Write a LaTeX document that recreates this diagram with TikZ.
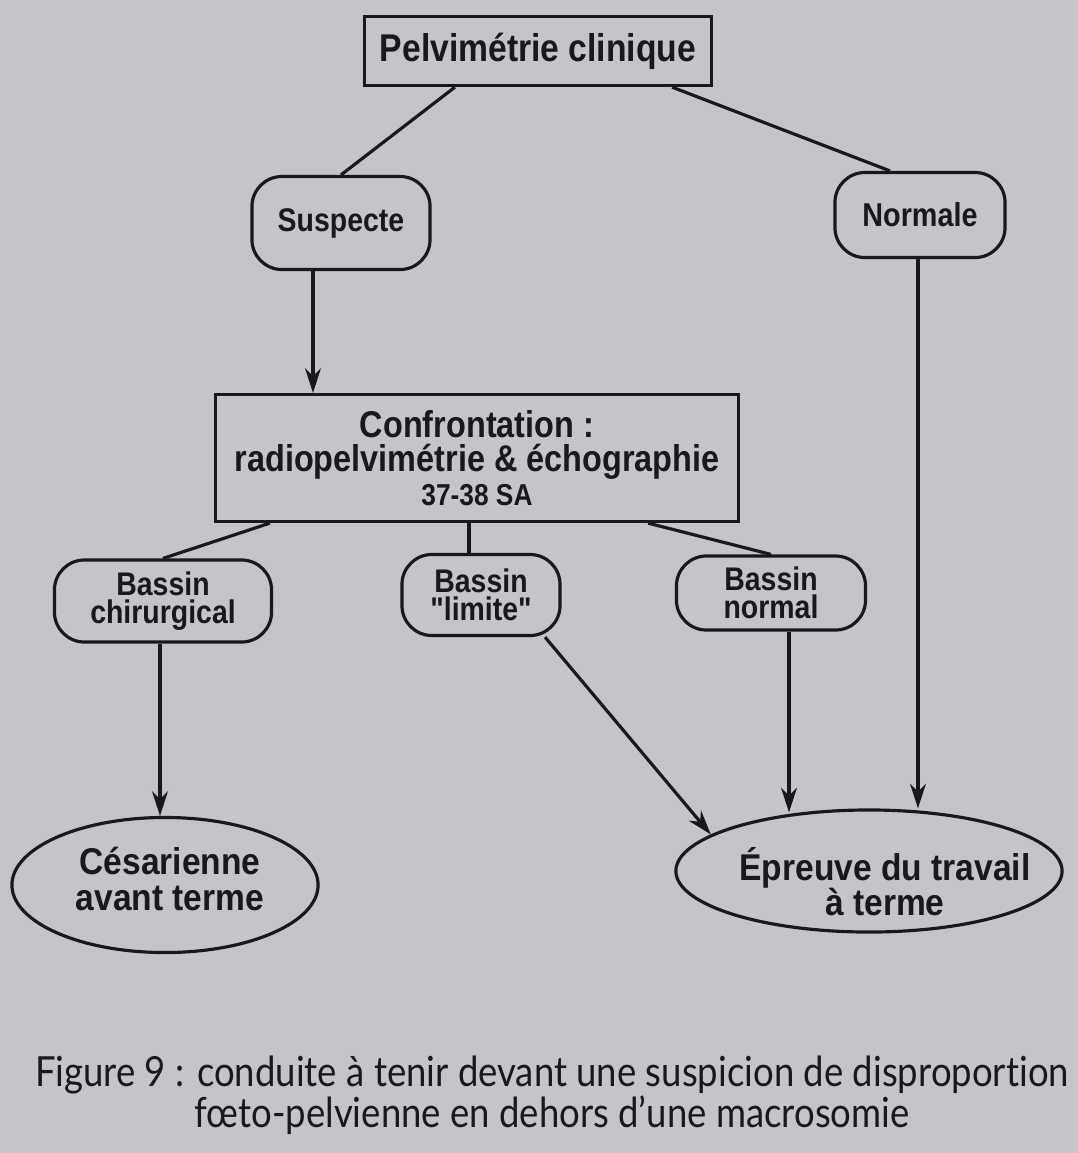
\documentclass[tikz,border=0pt]{standalone}
\usepackage{fontspec}
\usepackage{tikz}
\usetikzlibrary{shapes.geometric,arrows.meta}

\newfontfamily\boxfont{Liberation Sans}[FakeStretch=0.87]
\newfontfamily\ovalfont{Liberation Sans}[FakeStretch=0.9]
\newfontfamily\capfont{Lato}[FakeStretch=0.88,Ligatures=NoCommon]
\definecolor{paper}{RGB}{196,196,201}
\definecolor{ink}{RGB}{25,25,28}

\begin{document}
\begin{tikzpicture}[x=0.01cm,y=-0.01cm,
    every node/.style={text=ink,font=\boxfont\bfseries,inner sep=0pt,align=center},
    sqbox/.style={draw=ink,line width=0.9pt,rectangle},
    rdbox/.style={draw=ink,line width=0.9pt,rectangle,rounded corners=0.3cm},
    oval/.style={draw=ink,line width=0.9pt,ellipse},
    ovaltxt/.style={font=\ovalfont\bfseries\fontsize{10.6}{10}\selectfont},
    lien/.style={draw=ink,line width=0.9pt},
    fleche/.style={lien,-{Stealth[length=7pt,width=4.5pt]}}]

  % fond de la page
  \fill[paper] (0,0) rectangle (1078,1153);
  \useasboundingbox (0,0) rectangle (1078,1153);

  % noeuds
  \node[sqbox,minimum width=3.47cm,minimum height=0.69cm,font=\boxfont\bfseries\fontsize{11}{12}\selectfont]
    (pelv) at (538,51) {Pelvimétrie clinique};
  \node[rdbox,minimum width=1.78cm,minimum height=0.93cm,font=\boxfont\bfseries\fontsize{9.3}{11}\selectfont]
    (susp) at (341,223) {Suspecte};
  \node[rdbox,minimum width=1.70cm,minimum height=0.85cm,font=\boxfont\bfseries\fontsize{9.4}{11}\selectfont]
    (norm) at (920,215) {Normale};
  \node[sqbox,minimum width=5.22cm,minimum height=1.27cm,font=\boxfont\bfseries\fontsize{10.6}{9.6}\selectfont]
    (conf) at (477,458) {Confrontation :\\radiopelvimétrie \& échographie\\{\fontsize{8.6}{9.6}\selectfont 37-38 SA}};
  \node[rdbox,minimum width=2.17cm,minimum height=0.82cm,font=\boxfont\bfseries\fontsize{9.3}{8}\selectfont]
    (chir) at (163,601) {Bassin\\chirurgical};
  \node[rdbox,minimum width=1.58cm,minimum height=0.81cm,font=\boxfont\bfseries\fontsize{9.3}{8}\selectfont]
    (lim) at (481,595) {Bassin\\"limite"};
  \node[rdbox,minimum width=1.89cm,minimum height=0.74cm,font=\boxfont\bfseries\fontsize{9.3}{8}\selectfont]
    (bnor) at (771,593) {Bassin\\normal};

  % ellipses (contour et texte separes)
  \node[oval,minimum width=3.06cm,minimum height=1.35cm] (ces) at (165,885) {};
  \node[ovaltxt] (ces-t) at (170,879) {Césarienne\\avant terme};
  \node[oval,minimum width=3.86cm,minimum height=1.22cm] (epr) at (869,871) {};
  \node[ovaltxt] (epr-t) at (885,882) {Épreuve du travail\\à terme};

  % liens
  \draw[lien] ([xshift=-0.83cm]pelv.south) -- (susp.north);
  \draw[lien] ([xshift=1.34cm]pelv.south) -- ([xshift=-0.3cm]norm.north);
  \draw[fleche] ([xshift=-0.28cm]susp.south) -- ([xshift=-0.28cm]susp.south |- conf.north);
  \draw[fleche] ([xshift=-0.02cm]norm.south) -- ([xshift=-0.02cm]norm.south |- epr.north);
  \draw[lien] ([xshift=-2.07cm]conf.south) -- (chir.north);
  \draw[lien] ([xshift=-0.08cm]conf.south) -- ([xshift=-0.08cm]conf.south |- lim.north);
  \draw[lien] ([xshift=1.71cm]conf.south) -- (bnor.north);
  \draw[fleche] ([xshift=-0.03cm]chir.south) -- ([xshift=-0.03cm]chir.south |- ces.north);
  \draw[fleche] ([xshift=0.64cm]lim.south) -- (epr.167);
  \draw[fleche] ([xshift=0.18cm]bnor.south) -- ([xshift=0.18cm,yshift=-0.04cm]bnor.south |- epr.north);

  % legende
  \node[font=\capfont\fontsize{11.8}{11.6}\selectfont] (leg) at (552,1095)
    {Figure 9 : conduite à tenir devant une suspicion de disproportion\\fœto-pelvienne en dehors d’une macrosomie};
\end{tikzpicture}
\end{document}
